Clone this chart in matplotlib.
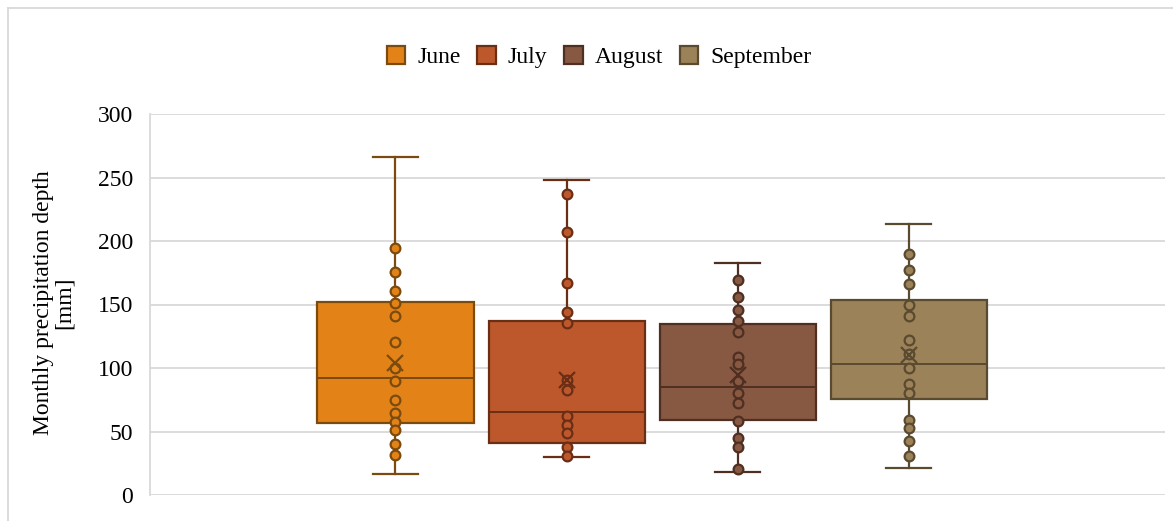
import matplotlib.pyplot as plt
from matplotlib.patches import Patch
from matplotlib.lines import Line2D

plt.rcParams['font.family'] = ['Liberation Serif', 'DejaVu Serif']

months = ["June", "July", "August", "September"]

# monthly totals shown as inner points [mm]
june = [194.6, 175.2, 161.0, 151.3, 141.3, 120.3, 99.9, 89.6, 75.0, 64.7, 57.3, 50.8, 40.3, 31.6]
july = [237.2, 207.0, 167.3, 144.0, 135.6, 90.7, 82.8, 62.0, 55.5, 48.7, 37.6, 31.1]
august = [169.4, 155.7, 146.0, 136.9, 128.0, 109.0, 102.8, 89.6, 80.5, 72.3, 58.4, 44.7, 37.6, 20.3]
september = [189.6, 176.8, 166.3, 149.4, 140.6, 122.4, 111.2, 100.2, 87.6, 80.7, 59.4, 52.4, 42.4, 30.9]
points = [june, july, august, september]

# box statistics
q1 = [56.6, 41.1, 59.2, 75.7]
median = [92.3, 65.7, 85.4, 103.5]
q3 = [151.6, 136.9, 134.3, 153.7]
whisker_lo = [16.7, 30.3, 18.5, 21.1]
whisker_hi = [266.0, 248.2, 182.5, 213.5]
means = [103.8, 90.7, 94.1, 110.6]

fills = ["#E38317", "#BD582D", "#875842", "#9C8258"]
edges = ["#7A4A0E", "#6A2E14", "#4E2F22", "#5A4A30"]

W, H = 1173, 521
fig = plt.figure(figsize=(W / 100, H / 100), dpi=100)
ax = fig.add_axes([150 / W, 1 - 495 / H, 1015 / W, 381 / H])

for i in range(4):
    st = [dict(med=median[i], q1=q1[i], q3=q3[i], whislo=whisker_lo[i],
               whishi=whisker_hi[i], mean=means[i], fliers=[], label=months[i])]
    ec = edges[i]
    ax.bxp(st, positions=[i], widths=0.912, patch_artist=True,
           showmeans=True, showfliers=False, manage_ticks=False,
           boxprops=dict(facecolor=fills[i], edgecolor=ec, linewidth=1.6),
           medianprops=dict(color=ec, linewidth=1.4),
           whiskerprops=dict(color=ec, linewidth=1.6),
           capprops=dict(color=ec, linewidth=1.6),
           capwidths=0.26,
           meanprops=dict(marker="x", markersize=11, markeredgecolor=ec,
                          markeredgewidth=1.6, zorder=5))
    ax.plot([i] * len(points[i]), points[i], linestyle="none", marker="o",
            markersize=7, markerfacecolor=fills[i], markeredgecolor=ec,
            markeredgewidth=1.6, zorder=4)

ax.set_xlim(-1.435, 4.498)
ax.set_ylim(0, 300)
ax.set_yticks(range(0, 301, 50))
ax.set_xticks([])
ax.tick_params(axis="y", length=0, labelsize=17, pad=12)
ax.grid(axis="y", color="#d9d9d9", linewidth=1.3)
ax.set_axisbelow(True)
for s in ["top", "right", "bottom"]:
    ax.spines[s].set_visible(False)
ax.spines["left"].set_color("#d9d9d9")
ax.spines["left"].set_linewidth(1.3)

fig.text(54 / W, 1 - 303 / H, "Monthly precipitation depth\n[mm]",
         rotation=90, ha="center", va="center", fontsize=17, linespacing=1.0)

handles = [Patch(facecolor=fills[i], edgecolor=edges[i], linewidth=1.6, label=months[i])
           for i in range(4)]
fig.legend(handles=handles, loc="center", bbox_to_anchor=(599 / W, 1 - 57 / H),
           ncol=4, frameon=False, fontsize=17, handlelength=0.78, handleheight=0.78,
           handletextpad=0.5, columnspacing=0.72)

# chart area border (left and top edges visible)
fig.lines.append(Line2D([8 / W, 8 / W], [0, 1 - 8 / H], transform=fig.transFigure,
                        color="#d9d9d9", linewidth=1.3))
fig.lines.append(Line2D([8 / W, 1], [1 - 8 / H, 1 - 8 / H], transform=fig.transFigure,
                        color="#d9d9d9", linewidth=1.3))

fig.savefig("out.png", dpi=100)
